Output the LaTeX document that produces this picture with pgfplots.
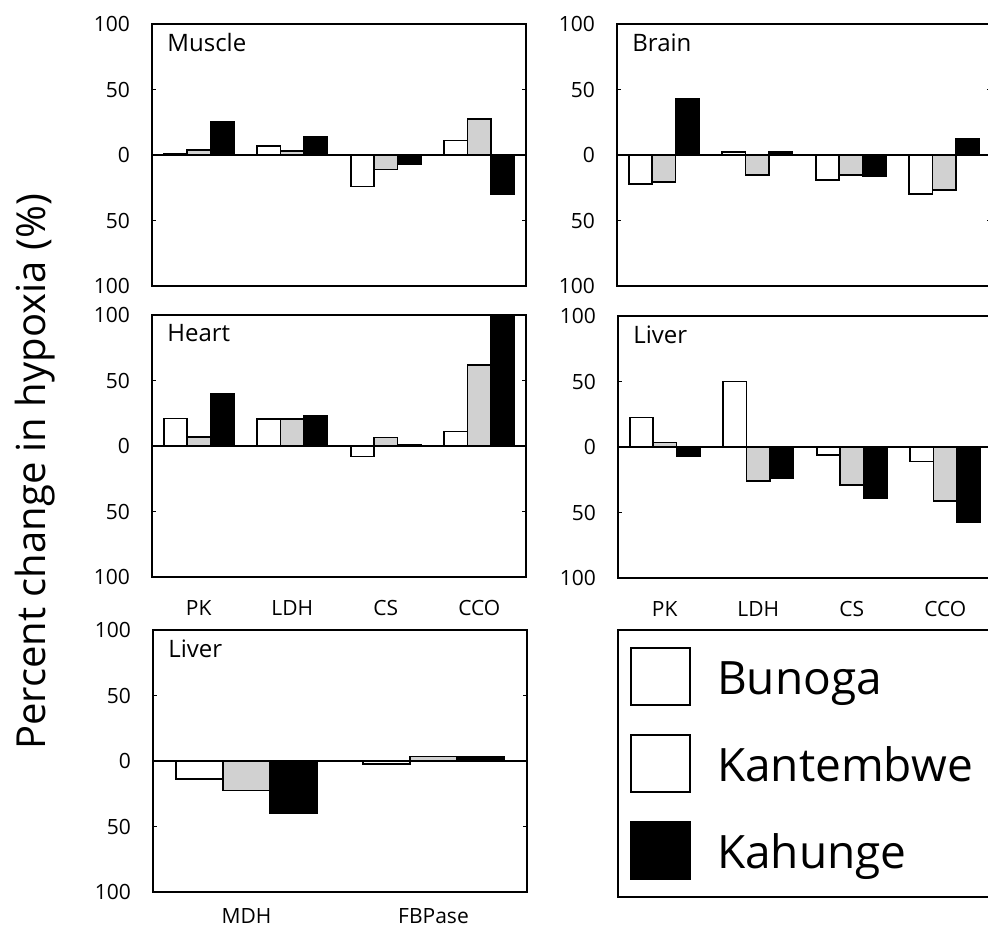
\documentclass[border=0pt]{standalone}
\usepackage{fontspec}
\setmainfont{Open Sans}
\usepackage{pgfplots}
\pgfplotsset{compat=1.18}
\pgfplotsset{
 panel/.style={
   scale only axis, width=187pt, height=131pt,
   anchor=south west,
   ymin=-100, ymax=100,
   xmin=-0.5, xmax=3.5,
   ytick={-100,-50,0,50,100},
   yticklabels={100,50,0,50,100},
   ybar=0pt, bar width=0.25,
   xtick={0,1,2,3},
   xtick style={draw=none},
   ytick style={black, line width=0.6pt},
   tick align=inside, major tick length=2pt,
   axis line style={line width=0.8pt},
   tick label style={font=\fontsize{10.5}{12}\selectfont},
   yticklabel style={xshift=-7.5pt},
   xticklabel style={yshift=-8pt},
   /pgf/number format/assume math mode=true,
   every axis plot/.append style={draw=black, line width=0.9pt},
 },
 nox/.style={xticklabels={}},
 enz/.style={xticklabels={PK,LDH,CS,CCO}},
 sqlegend/.style={legend image code/.code={\draw[##1] (0pt,-5pt) rectangle (29.5pt,23.5pt);}},
}
\newcommand{\paneltitle}[1]{\node[anchor=north west, inner sep=0pt, font=\fontsize{12}{14}\selectfont, xshift=7.5pt, yshift=-4.5pt] at (rel axis cs:0,1) {#1};}
\begin{document}
\begin{tikzpicture}
\useasboundingbox (0,0) rectangle (494pt,463.5pt);
% Muscle
\begin{axis}[panel, nox, at={(76pt,320.5pt)}]
\addplot[fill=white] coordinates {(0,1) (1,7) (2,-24) (3,11)};
\addplot[fill=black!18] coordinates {(0,4) (1,3) (2,-11) (3,27.5)};
\addplot[fill=black] coordinates {(0,25) (1,14) (2,-7) (3,-30)};
\draw[line width=0.9pt] (axis cs:-0.5,0) -- (axis cs:3.5,0);
\paneltitle{Muscle}
\end{axis}
% Brain
\begin{axis}[panel, nox, at={(308.5pt,320.5pt)}]
\addplot[fill=white] coordinates {(0,-22) (1,2) (2,-19) (3,-30)};
\addplot[fill=black!18] coordinates {(0,-20.5) (1,-15.5) (2,-15) (3,-27)};
\addplot[fill=black] coordinates {(0,43) (1,2) (2,-16) (3,12.5)};
\draw[line width=0.9pt] (axis cs:-0.5,0) -- (axis cs:3.5,0);
\paneltitle{Brain}
\end{axis}
% Heart
\begin{axis}[panel, enz, at={(76pt,175pt)}]
\addplot[fill=white] coordinates {(0,21) (1,20.5) (2,-8) (3,11)};
\addplot[fill=black!18] coordinates {(0,7) (1,20.5) (2,6.5) (3,62)};
\addplot[fill=black] coordinates {(0,40) (1,23) (2,0.5) (3,105)};
\draw[line width=0.9pt] (axis cs:-0.5,0) -- (axis cs:3.5,0);
\paneltitle{Heart}
\end{axis}
% Liver (right)
\begin{axis}[panel, enz, at={(309pt,174.5pt)}]
\addplot[fill=white] coordinates {(0,22.5) (1,50) (2,-6) (3,-11)};
\addplot[fill=black!18] coordinates {(0,3.5) (1,-26) (2,-29) (3,-41)};
\addplot[fill=black] coordinates {(0,-7) (1,-23.5) (2,-39) (3,-57)};
\draw[line width=0.9pt] (axis cs:-0.5,0) -- (axis cs:3.5,0);
\paneltitle{Liver}
\end{axis}
% Liver (bottom)
\begin{axis}[panel, at={(76.5pt,17.5pt)}, xmin=-0.5, xmax=1.5, xtick={0,1},
  xticklabels={MDH,FBPase}, xticklabel style={yshift=3.5pt},
  legend style={at={(1.2413,1.0038)}, anchor=north west, draw=black, line width=0.8pt,
    inner xsep=6pt, inner ysep=8.5pt, row sep=14pt,
    font=\fontsize{23}{27}\selectfont,
    nodes={inner sep=0pt, text depth=0pt, text width=140pt, anchor=base west},
    /tikz/every odd column/.append style={column sep=13pt}},
  legend cell align=left]
\addplot[fill=white, forget plot, bar shift=-0.25] coordinates {(0,-14) (1,-2.5)};
\addplot[fill=black!18, forget plot, bar shift=0] coordinates {(0,-22.5) (1,3.5)};
\addplot[fill=black, forget plot, bar shift=0.25] coordinates {(0,-40) (1,3)};
\draw[line width=0.9pt] (axis cs:-0.5,0) -- (axis cs:1.5,0);
\paneltitle{Liver}
\addlegendimage{sqlegend, fill=white, draw=black, line width=1pt}
\addlegendentry{Bunoga}
\addlegendimage{sqlegend, fill=white, draw=black, line width=1pt}
\addlegendentry{Kantembwe}
\addlegendimage{sqlegend, fill=black, draw=black, line width=1pt}
\addlegendentry{Kahunge}
\end{axis}
\node[rotate=90, anchor=base, font=\fontsize{20}{24}\selectfont] at (22.5pt,227.5pt) {Percent change in hypoxia (\%)};
\end{tikzpicture}
\end{document}
